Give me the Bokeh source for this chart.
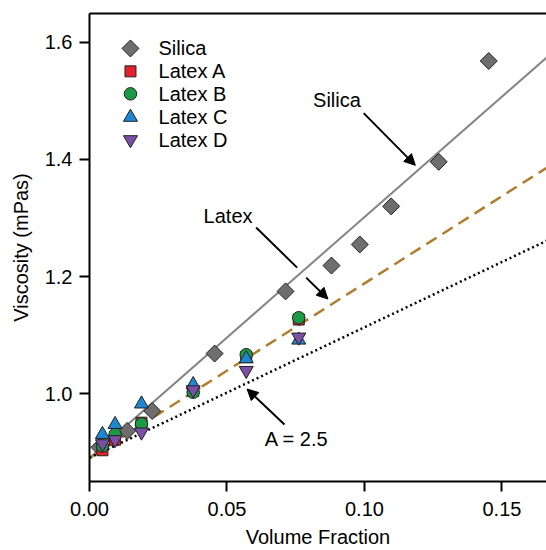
import numpy as np
from bokeh.plotting import figure
from bokeh.models import Range1d, LinearAxis, FixedTicker, Arrow, NormalHead, Label, PrintfTickFormatter
from bokeh.core.properties import value
from bokeh.embed import file_html
from bokeh.resources import INLINE

# ---- data ----
silica_phi = [0.0036, 0.0137, 0.0228, 0.0455, 0.0713, 0.0880, 0.0983, 0.1097, 0.1270, 0.1452]
silica_eta = [0.909, 0.937, 0.971, 1.069, 1.175, 1.219, 1.255, 1.320, 1.396, 1.568]

latex_phi = [0.0047, 0.0093, 0.0189, 0.0377, 0.0570, 0.0761]
latexA_eta = [0.904, 0.922, 0.951, 1.005, 1.063, 1.127]
latexB_eta = [0.911, 0.931, 0.949, 1.003, 1.067, 1.130]
latexC_eta = [0.931, 0.948, 0.983, 1.016, 1.060, 1.092]
latexD_eta = [0.915, 0.922, 0.935, 1.007, 1.040, 1.097]

# fitted lines  eta = eta0 * (1 + k * phi)
eta0 = 0.891
k_silica = 4.61
k_latex = 3.34
k_einstein = 2.5
fit_phi = [0.0, 0.17]

x_ticks = [0.0, 0.05, 0.10, 0.15]
y_ticks = [1.0, 1.2, 1.4, 1.6]

series_names = ["Silica", "Latex A", "Latex B", "Latex C", "Latex D"]

FONT = "Liberation Sans"

p = figure(width=546, height=550,
           x_range=Range1d(0, 0.1662), y_range=Range1d(0.8507, 1.649),
           output_backend="svg", toolbar_location=None,
           min_border_left=89, min_border_right=0, min_border_top=13, min_border_bottom=68,
           x_axis_label="Volume Fraction", y_axis_label="Viscosity (mPas)")
p.outline_line_color = None
p.xgrid.visible = False
p.ygrid.visible = False
p.background_fill_color = "white"
p.border_fill_color = "white"

p.xaxis.ticker = FixedTicker(ticks=x_ticks)
p.yaxis.ticker = FixedTicker(ticks=y_ticks)
p.xaxis.formatter = PrintfTickFormatter(format="%.2f")
p.yaxis.formatter = PrintfTickFormatter(format="%.1f")
for ax in (p.xaxis, p.yaxis):
    ax.axis_line_width = 2
    ax.axis_line_color = "black"
    ax.major_tick_line_width = 2
    ax.major_tick_line_color = "black"
    ax.major_tick_out = 10
    ax.major_tick_in = 0
    ax.minor_tick_line_color = None
    ax.major_label_text_font = FONT
    ax.major_label_text_font_size = "20px"
    ax.major_label_text_color = "black"
    ax.axis_label_text_font = FONT
    ax.axis_label_text_font_size = "20px"
    ax.axis_label_text_font_style = "normal"
    ax.axis_label_text_color = "black"
p.xaxis.major_label_standoff = 10
p.xaxis.axis_label_standoff = 7
p.yaxis.major_label_standoff = 7
p.yaxis.axis_label_standoff = 10

top_axis = LinearAxis(ticker=FixedTicker(ticks=[]), axis_line_width=2, axis_line_color="black",
                      major_tick_line_color=None, minor_tick_line_color=None,
                      major_label_text_font_size="0px")
p.add_layout(top_axis, "above")

# ---- fit lines ----
fx = np.array(fit_phi)
p.line(fx, eta0 * (1 + k_silica * fx), line_color="#858585", line_width=2)
p.line(fx, eta0 * (1 + k_latex * fx), line_color="#b07d2e", line_width=2.5, line_dash="12 7")
p.line(fx, eta0 * (1 + k_einstein * fx), line_color="black", line_width=2.5, line_dash="2 3")

# ---- markers ----
styles = [
    dict(marker="square", size=12, angle=np.pi / 4, fill_color="#6e6e6e"),
    dict(marker="square", size=11, angle=0, fill_color="#e4202a"),
    dict(marker="circle", size=12.5, angle=0, fill_color="#1b9a45"),
    dict(marker="triangle", size=14, angle=0, fill_color="#1f87d1"),
    dict(marker="inverted_triangle", size=14, angle=0, fill_color="#7a4fa6"),
]
series = [(silica_phi, silica_eta), (latex_phi, latexA_eta), (latex_phi, latexB_eta),
          (latex_phi, latexC_eta), (latex_phi, latexD_eta)]
for (xs, ys), st in zip(series, styles):
    p.scatter(xs, ys, marker=st["marker"], size=st["size"], angle=st["angle"],
              fill_color=st["fill_color"], line_color="#222222", line_width=1)

# ---- manual legend (top-left) ----
leg_x_marker = 0.0149
leg_x_text = 0.0251
leg_y = [1.5894, 1.5503, 1.5120, 1.4720, 1.4337]
for name, st, ly in zip(series_names, styles, leg_y):
    p.scatter([leg_x_marker], [ly], marker=st["marker"], size=st["size"], angle=st["angle"],
              fill_color=st["fill_color"], line_color="#222222", line_width=1)
    p.add_layout(Label(x=leg_x_text, y=ly, text=name, text_font=FONT, text_font_size="20px",
                       text_align="left", text_baseline="middle", text_color="black"))

# ---- annotations ----
def note(x, y, t):
    p.add_layout(Label(x=x, y=y, text=t, text_font=FONT, text_font_size="20px",
                       text_align="center", text_baseline="middle", text_color="black"))

def arrow(x0, y0, x1, y1):
    p.add_layout(Arrow(x_start=x0, y_start=y0, x_end=x1, y_end=y1, line_width=2,
                       line_color="black",
                       end=NormalHead(size=11, fill_color="black", line_color="black")))

note(0.0900, 1.501, "Silica")
arrow(0.0997, 1.479, 0.1185, 1.390)

note(0.0504, 1.304, "Latex")
p.segment(x0=[0.0606], y0=[1.284], x1=[0.0755], y1=[1.2155], line_color="black", line_width=2)
arrow(0.0788, 1.1985, 0.0867, 1.162)

note(0.0764, 0.924, "A  = 2.5")
arrow(0.0709, 0.948, 0.0573, 1.0085)

open("out.html", "w").write(file_html(p, INLINE))
